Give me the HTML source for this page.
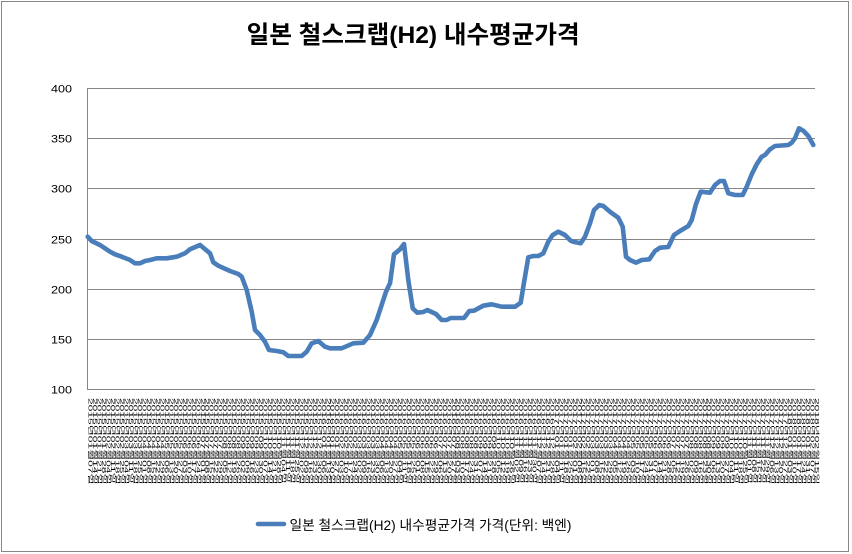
<!DOCTYPE html>
<html>
<head>
<meta charset="utf-8">
<style>
html,body{margin:0;padding:0;background:#fff;}
#wrap{position:relative;width:852px;height:554px;overflow:hidden;background:#fff;}
svg{position:absolute;left:0;top:0;}
#xl{position:absolute;left:88px;top:398px;writing-mode:vertical-lr;text-orientation:sideways;
font-family:"Liberation Sans","Noto Sans CJK KR",sans-serif;font-size:12px;line-height:10.67px;color:#000;
transform:scaleX(0.42);transform-origin:0 0;white-space:nowrap;}
#xl div{margin:0;padding:0;}
</style>
</head>
<body>
<div id="wrap">
<svg width="852" height="554" viewBox="0 0 852 554" xmlns="http://www.w3.org/2000/svg">
<rect x="1.5" y="1.5" width="847" height="550" fill="#fff" stroke="#878787" stroke-width="1"/>
<g stroke="#878787" stroke-width="1" fill="none">
<line x1="87" y1="88.5" x2="815" y2="88.5"/>
<line x1="87" y1="138.5" x2="815" y2="138.5"/>
<line x1="87" y1="188.5" x2="815" y2="188.5"/>
<line x1="87" y1="239.5" x2="815" y2="239.5"/>
<line x1="87" y1="289.5" x2="815" y2="289.5"/>
<line x1="87" y1="339.5" x2="815" y2="339.5"/>
<line x1="87" y1="389.5" x2="815" y2="389.5"/>
<line x1="87.5" y1="88" x2="87.5" y2="390"/>
</g>
<g font-family="Liberation Sans, sans-serif" font-size="11" fill="#000" text-anchor="end">
<text x="72" y="92.5" textLength="21" lengthAdjust="spacingAndGlyphs">400</text>
<text x="72" y="142.5" textLength="21" lengthAdjust="spacingAndGlyphs">350</text>
<text x="72" y="192.5" textLength="21" lengthAdjust="spacingAndGlyphs">300</text>
<text x="72" y="243.3" textLength="21" lengthAdjust="spacingAndGlyphs">250</text>
<text x="72" y="293.3" textLength="21" lengthAdjust="spacingAndGlyphs">200</text>
<text x="72" y="343.3" textLength="21" lengthAdjust="spacingAndGlyphs">150</text>
<text x="72" y="393.3" textLength="21" lengthAdjust="spacingAndGlyphs">100</text>
</g>
<polyline fill="none" stroke="#4A7EBB" stroke-width="4.6" stroke-linejoin="round" stroke-linecap="round" points="87.7,236.7 91.7,241 100,245 110,251.7 115,254.3 121.7,256.7 130,260 135,263.3 140,263.3 145,261 150,260 156.7,258.3 166.7,258.3 176.7,256.7 185,253.3 190,249.3 200,245 210,253.3 213.3,262.3 218.3,265.7 230,271 238.3,274 241.7,276.7 246.7,290 251.7,311.7 255,330 260,335 265,341.7 269,350 276.7,351 283.3,352.3 288.3,356 301.7,356 306.7,351.7 311.7,343.3 318.3,341 325,346.7 330,348.3 341.7,348.3 353.3,343.3 363.3,342.7 370,335 376.7,320 383.3,300 386,291.7 390,283.3 394,254.3 400,249.3 404,244 408.3,280 412.7,308.3 417.3,312.7 423.3,312 427.3,310 436,314 441.7,320 446.7,320 450.7,318 464,318 469.3,311 474,310.7 483.3,305.7 491.7,304.3 501.7,306.7 515,306.7 520.7,302.7 523.3,286.7 528.3,257.3 533.3,256 538.3,256 543.3,253.3 548.3,241.7 552.7,235 558.3,231.7 565,235 570.7,240.7 573.3,241.7 580.7,243.3 585,236.7 590,223.3 594,210 599.3,205 603.3,206 610,211.7 618.3,217.7 622.7,226.7 626,256.7 630,260 636,262.7 641.7,260 649.3,259.3 655,251 660,247.7 668.3,247 674,235 680,231 688.3,226 691.7,220 696,204 700.7,191.7 710,192.7 715,185 720,181 724,181 728.3,193.3 735,195 742.7,195 746.7,186.7 751.7,174.3 756.7,164.3 761.7,156.7 765,155 770,149.3 775,146 788.3,145 791.7,142.7 795,138.3 799,128.3 803.3,130.7 808.3,136 813.3,145"/>
<text x="246.7" y="43" font-family="Liberation Sans, Noto Sans CJK KR, sans-serif" font-size="24.5" font-weight="bold" fill="#000" textLength="333" lengthAdjust="spacingAndGlyphs">일본 철스크랩(H2) 내수평균가격</text>
<line x1="258" y1="524" x2="284" y2="524" stroke="#4A7EBB" stroke-width="4.6" stroke-linecap="round"/>
<text x="289.5" y="530" font-family="Liberation Sans, Noto Sans CJK KR, sans-serif" font-size="13.5" fill="#000" textLength="282" lengthAdjust="spacingAndGlyphs">일본 철스크랩(H2) 내수평균가격 가격(단위: 백엔)</text>
</svg>
<div id="xl">
<div>2015년01월07일</div><div>2015년01월14일</div><div>2015년01월21일</div><div>2015년01월28일</div>
<div>2015년02월04일</div><div>2015년02월11일</div><div>2015년02월18일</div><div>2015년02월25일</div>
<div>2015년03월04일</div><div>2015년03월11일</div><div>2015년03월18일</div><div>2015년03월25일</div>
<div>2015년04월01일</div><div>2015년04월08일</div><div>2015년04월15일</div><div>2015년04월22일</div><div>2015년04월29일</div>
<div>2015년05월06일</div><div>2015년05월13일</div><div>2015년05월20일</div><div>2015년05월27일</div>
<div>2015년06월03일</div><div>2015년06월10일</div><div>2015년06월17일</div><div>2015년06월24일</div>
<div>2015년07월01일</div><div>2015년07월08일</div><div>2015년07월15일</div><div>2015년07월22일</div><div>2015년07월29일</div>
<div>2015년08월05일</div><div>2015년08월12일</div><div>2015년08월19일</div><div>2015년08월26일</div>
<div>2015년09월02일</div><div>2015년09월09일</div><div>2015년09월16일</div><div>2015년09월23일</div><div>2015년09월30일</div>
<div>2015년10월07일</div><div>2015년10월14일</div><div>2015년10월21일</div><div>2015년10월28일</div>
<div>2015년11월04일</div><div>2015년11월11일</div><div>2015년11월18일</div><div>2015년11월25일</div>
<div>2015년12월02일</div><div>2015년12월09일</div><div>2015년12월16일</div><div>2015년12월23일</div><div>2015년12월30일</div>
<div>2016년01월06일</div><div>2016년01월13일</div><div>2016년01월20일</div><div>2016년01월27일</div>
<div>2016년02월03일</div><div>2016년02월10일</div><div>2016년02월17일</div><div>2016년02월24일</div>
<div>2016년03월02일</div><div>2016년03월09일</div><div>2016년03월16일</div><div>2016년03월23일</div><div>2016년03월30일</div>
<div>2016년04월06일</div><div>2016년04월13일</div><div>2016년04월20일</div><div>2016년04월27일</div>
<div>2016년05월04일</div><div>2016년05월11일</div><div>2016년05월18일</div><div>2016년05월25일</div>
<div>2016년06월01일</div><div>2016년06월08일</div><div>2016년06월15일</div><div>2016년06월22일</div><div>2016년06월29일</div>
<div>2016년07월06일</div><div>2016년07월13일</div><div>2016년07월20일</div><div>2016년07월27일</div>
<div>2016년08월03일</div><div>2016년08월10일</div><div>2016년08월17일</div><div>2016년08월24일</div><div>2016년08월31일</div>
<div>2016년09월07일</div><div>2016년09월14일</div><div>2016년09월21일</div><div>2016년09월28일</div>
<div>2016년10월05일</div><div>2016년10월12일</div><div>2016년10월19일</div><div>2016년10월26일</div>
<div>2016년11월02일</div><div>2016년11월09일</div><div>2016년11월16일</div><div>2016년11월23일</div><div>2016년11월30일</div>
<div>2016년12월07일</div><div>2016년12월14일</div><div>2016년12월21일</div><div>2016년12월28일</div>
<div>2017년01월04일</div><div>2017년01월11일</div><div>2017년01월18일</div><div>2017년01월25일</div>
<div>2017년02월01일</div><div>2017년02월08일</div><div>2017년02월15일</div><div>2017년02월22일</div>
<div>2017년03월01일</div><div>2017년03월08일</div><div>2017년03월15일</div><div>2017년03월22일</div><div>2017년03월29일</div>
<div>2017년04월05일</div><div>2017년04월12일</div><div>2017년04월19일</div><div>2017년04월26일</div>
<div>2017년05월03일</div><div>2017년05월10일</div><div>2017년05월17일</div><div>2017년05월24일</div><div>2017년05월31일</div>
<div>2017년06월07일</div><div>2017년06월14일</div><div>2017년06월21일</div><div>2017년06월28일</div>
<div>2017년07월05일</div><div>2017년07월12일</div><div>2017년07월19일</div><div>2017년07월26일</div>
<div>2017년08월02일</div><div>2017년08월09일</div><div>2017년08월16일</div><div>2017년08월23일</div><div>2017년08월30일</div>
<div>2017년09월06일</div><div>2017년09월13일</div><div>2017년09월20일</div><div>2017년09월27일</div>
<div>2017년10월04일</div><div>2017년10월11일</div><div>2017년10월18일</div><div>2017년10월25일</div>
<div>2017년11월01일</div><div>2017년11월08일</div><div>2017년11월15일</div><div>2017년11월22일</div><div>2017년11월29일</div>
<div>2017년12월06일</div><div>2017년12월13일</div><div>2017년12월20일</div><div>2017년12월27일</div>
<div>2018년01월03일</div><div>2018년01월10일</div><div>2018년01월17일</div><div>2018년01월24일</div><div>2018년01월31일</div>
<div>2018년02월07일</div><div>2018년02월15일</div>
</div>
</div>
</body>
</html>
